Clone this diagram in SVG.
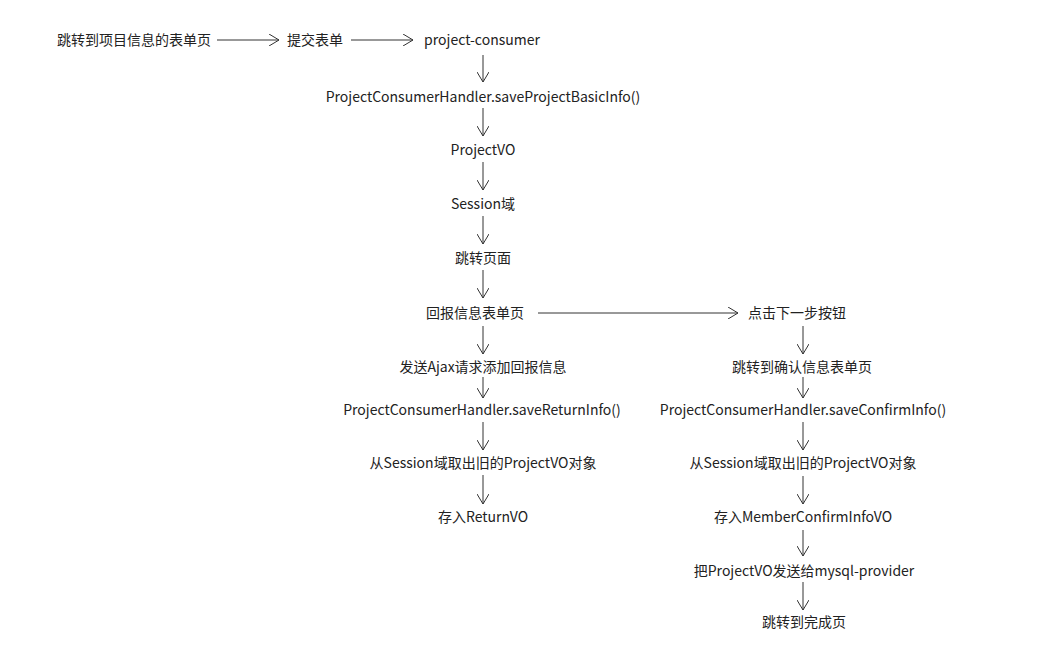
<svg xmlns="http://www.w3.org/2000/svg" width="1047" height="654" viewBox="0 0 1047 654">
<style>
text{font-family:"Noto Sans CJK SC","Microsoft YaHei","Noto Sans",sans-serif;font-size:14px;fill:#222;text-anchor:middle}
.c line{stroke:#333;stroke-width:1;fill:none;marker-end:url(#a)}
</style>
<defs>
<marker id="a" viewBox="0 0 10 12" refX="10" refY="6" markerWidth="10" markerHeight="12" markerUnits="userSpaceOnUse" orient="auto">
<path d="M0,0 L10,6 L0,12" fill="none" stroke="#333" stroke-width="1"/>
</marker>
</defs>
<rect width="1047" height="654" fill="#fff"/>
<g id="n1"><text x="134" y="45">跳转到项目信息的表单页</text></g>
<g id="n2"><text x="315" y="45">提交表单</text></g>
<g id="n3"><text x="482" y="45">project-consumer</text></g>
<g id="n4"><text x="483" y="102">ProjectConsumerHandler.saveProjectBasicInfo()</text></g>
<g id="n5"><text x="483" y="155">ProjectVO</text></g>
<g id="n6"><text x="483" y="209">Session域</text></g>
<g id="n7"><text x="483" y="263">跳转页面</text></g>
<g id="n8"><text x="475" y="318">回报信息表单页</text></g>
<g id="n9"><text x="797" y="318">点击下一步按钮</text></g>
<g id="n10"><text x="483" y="372">发送Ajax请求添加回报信息</text></g>
<g id="n11"><text x="482" y="415">ProjectConsumerHandler.saveReturnInfo()</text></g>
<g id="n12"><text x="483" y="468">从Session域取出旧的ProjectVO对象</text></g>
<g id="n13"><text x="483" y="522">存入ReturnVO</text></g>
<g id="n14"><text x="802" y="372">跳转到确认信息表单页</text></g>
<g id="n15"><text x="803" y="415">ProjectConsumerHandler.saveConfirmInfo()</text></g>
<g id="n16"><text x="803" y="468">从Session域取出旧的ProjectVO对象</text></g>
<g id="n17"><text x="803" y="522">存入MemberConfirmInfoVO</text></g>
<g id="n18"><text x="804" y="576">把ProjectVO发送给mysql-provider</text></g>
<g id="n19"><text x="804" y="627">跳转到完成页</text></g>
<g class="c" id="connectors">
<line x1="217" y1="40" x2="279" y2="40"/>
<line x1="351" y1="40" x2="413" y2="40"/>
<line x1="483" y1="55" x2="483" y2="82"/>
<line x1="483" y1="108" x2="483" y2="136"/>
<line x1="483" y1="162" x2="483" y2="190"/>
<line x1="483" y1="216" x2="483" y2="244"/>
<line x1="483" y1="270" x2="483" y2="298"/>
<line x1="538" y1="313" x2="738" y2="313"/>
<line x1="483" y1="326" x2="483" y2="354"/>
<line x1="483" y1="377" x2="483" y2="398"/>
<line x1="483" y1="422" x2="483" y2="450"/>
<line x1="483" y1="475" x2="483" y2="504"/>
<line x1="803" y1="326" x2="803" y2="354"/>
<line x1="803" y1="377" x2="803" y2="398"/>
<line x1="803" y1="422" x2="803" y2="450"/>
<line x1="803" y1="476" x2="803" y2="504"/>
<line x1="803" y1="530" x2="803" y2="556"/>
<line x1="803" y1="582" x2="803" y2="610"/>
</g>
</svg>
